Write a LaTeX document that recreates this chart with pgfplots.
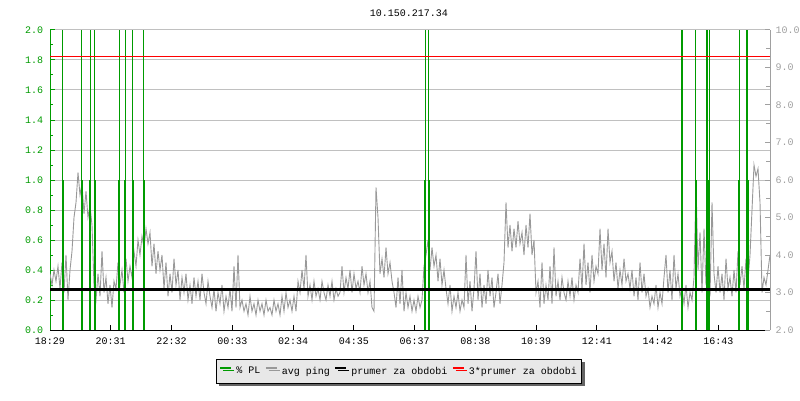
\documentclass[border=0pt]{standalone}
\usepackage{pgfplots}
\pgfplotsset{compat=1.18}
\usepackage{fontspec}
\setmainfont{Liberation Mono}
\usetikzlibrary{shadows}

\definecolor{pgreen}{RGB}{0,155,0}
\definecolor{pgray}{RGB}{153,153,153}
\definecolor{gridgray}{RGB}{192,192,192}
\definecolor{raxis}{RGB}{160,160,160}
\definecolor{legfill}{RGB}{232,232,232}
\definecolor{shadowc}{RGB}{100,100,100}

\pgfplotsset{
  base/.style={
    at={(50bp,70bp)}, anchor=south west, scale only axis,
    width=720bp, height=300bp,
    xmin=0, xmax=720,
    /pgf/number format/assume math mode=true,
    tick align=inside,
  },
}

\begin{document}
\fontsize{10bp}{12bp}\selectfont
\begin{tikzpicture}[x=1bp,y=1bp]
\path[use as bounding box] (0,0) rectangle (800,400);
\node at (409,386.5) {10.150.217.34};

% Axis A: grid, left axis, bottom axis
\begin{axis}[base, ymin=0, ymax=2,
  axis x line*=bottom, axis y line*=left,
  x axis line style={black, line width=1bp, -},
  y axis line style={pgreen, line width=1bp, -},
  ytick={0,0.2,0.4,0.6,0.8,1.0,1.2,1.4,1.6,1.8,2.0},
  minor y tick num=1,
  major tick length=5bp, minor tick length=3bp,
  ymajorgrids, grid style={gridgray, line width=1bp},
  ytick style={pgreen, line width=1bp},
  xtick style={black, line width=1bp},
  xtick={0,60.75,121.5,182.25,243,303.75,364.5,425.25,486,546.75,607.5,668.25},
  xticklabels={18:29,20:31,22:32,00:33,02:34,04:35,06:37,08:38,10:39,12:41,14:42,16:43},
  xticklabel style={yshift=-4.5bp},
  yticklabel style={pgreen, xshift=-3.4bp,
    /pgf/number format/fixed, /pgf/number format/fixed zerofill, /pgf/number format/precision=1},
]
\addplot[draw=none, forget plot] coordinates {(0,0)};
\end{axis}

% Axis B: right axis, avg ping
\begin{axis}[base, ymin=2, ymax=10,
  axis y line*=right, axis x line=none,
  y axis line style={raxis, line width=1bp, -},
  ytick={2,3,4,5,6,7,8,9,10},
  minor y tick num=1,
  major tick length=5.5bp, minor tick length=4bp,
  ytick style={raxis, line width=1bp},
  yticklabel style={raxis, xshift=2bp,
    /pgf/number format/fixed, /pgf/number format/fixed zerofill, /pgf/number format/precision=1},
]
\addplot[pgray, line width=0.9bp, forget plot] coordinates {
(0,3.5)(2,3.2)(4,3.6)(6,3.3)(8,3.7)(10,3.1)(12,3.8)(14,3.0)(16,4.0)(18,2.8)(20,3.6)
(22,4.1)(24,5.0)(26,5.4)(28,6.2)(30,5.6)(32,5.9)(34,5.1)(36,5.7)(38,5.0)(40,5.3)(42,4.8)
(44,3.2)(46,2.8)(48,3.5)(50,2.9)(52,4.1)(54,3.0)(56,3.4)(58,2.7)(60,3.2)(62,2.6)(64,3.3)
(66,3.1)(68,3.8)(70,3.2)(72,3.6)(74,3.0)(76,3.9)(78,3.3)(80,3.7)(82,3.4)
(84,4.1)(86,3.7)(88,4.4)(90,4.0)(92,4.5)(94,4.2)(96,4.7)(98,4.3)(100,4.6)
(102,3.7)(104,4.3)(106,3.5)(108,4.1)(110,3.6)(112,4.0)
(114,3.1)(116,3.8)(118,2.9)(120,3.5)(122,3.0)(124,3.9)(126,3.2)(128,3.6)(130,2.8)(132,3.4)
(134,3.0)(136,3.5)(138,2.8)(140,3.2)(142,2.7)(144,3.4)(146,2.9)(148,3.3)(150,2.8)(152,3.5)
(154,3.0)(156,2.7)(158,3.3)(160,2.9)
(162,2.6)(164,3.1)(166,2.5)(168,3.0)(170,2.7)(172,3.2)(174,2.5)(176,2.9)(178,2.6)(180,3.1)
(182,2.5)(184,3.7)(186,2.6)(188,4.0)(190,2.6)
(192,2.8)(194,2.5)(196,2.7)(198,2.4)(200,2.9)(202,2.5)(204,2.7)(206,2.4)(208,2.8)(210,2.5)
(212,2.7)(214,2.4)(216,2.8)(218,2.5)(220,2.6)(222,2.4)(224,2.8)(226,2.5)(228,2.7)(230,2.4)
(232,2.9)(234,2.5)(236,3.0)(238,2.6)(240,2.8)(242,2.5)(244,2.9)(246,2.5)
(248,3.3)(250,3.0)(252,3.6)(254,3.1)(256,4.0)
(258,2.9)(260,3.2)(262,2.8)(264,3.3)(266,2.9)(268,3.1)(270,2.8)(272,3.3)(274,3.0)(276,2.8)
(278,3.2)(280,2.9)(282,3.3)(284,2.8)(286,3.1)(288,2.9)(290,3.0)
(292,3.7)(294,3.0)(296,3.4)(298,3.1)(300,3.6)(302,3.0)(304,3.5)(306,3.1)(308,3.3)(310,3.0)
(312,3.7)(314,3.2)(316,3.5)(318,3.0)(320,3.3)(322,2.6)(324,2.5)(326,5.8)(328,5.0)
(330,3.5)(332,3.9)(334,3.4)(336,4.2)(338,3.5)(340,3.8)(342,3.3)
(344,3.0)(346,2.6)(348,3.4)(350,2.7)(352,3.6)(354,2.5)(356,3.0)
(358,2.6)(360,2.9)(362,2.5)(364,2.8)(366,2.5)(368,2.9)(370,2.6)(372,2.8)
(374,3.7)(376,4.0)(378,4.4)(380,3.6)(382,4.2)(384,3.7)(386,4.0)
(388,3.3)(390,3.9)(392,3.2)(394,3.6)(396,3.1)
(398,2.7)(400,3.2)(402,2.5)(404,2.9)(406,2.6)(408,3.0)(410,2.5)(412,2.8)
(414,2.6)(416,4.0)(418,2.7)(420,3.3)(422,2.5)(424,3.1)(426,4.1)
(428,2.8)(430,3.5)(432,2.6)(434,3.2)(436,2.7)(438,3.6)(440,2.9)(442,3.4)(444,2.6)(446,3.0)
(448,3.5)(450,2.7)(452,3.2)
(454,3.8)(456,5.4)(458,4.2)(460,4.8)(462,4.1)(464,4.7)(466,4.2)(468,4.9)(470,4.3)(472,4.6)
(474,4.0)(476,4.8)(478,4.2)(480,5.1)(482,4.0)(484,4.4)
(486,3.0)(488,3.3)(490,2.6)(492,3.8)(494,2.7)(496,3.2)(498,2.8)(500,3.7)(502,2.7)
(504,4.2)(506,2.9)(508,3.3)(510,2.8)(512,3.4)(514,3.0)(516,2.8)(518,3.3)(520,2.9)(522,3.4)
(524,2.8)(526,3.2)(528,3.0)
(530,3.9)(532,3.1)(534,4.3)(536,3.2)(538,3.8)(540,3.0)(542,4.0)(544,3.3)(546,3.7)
(548,3.5)(550,4.7)(552,3.6)(554,4.3)(556,3.4)(558,4.7)(560,3.8)(562,4.1)
(564,3.3)(566,3.8)(568,3.1)(570,3.6)(572,3.2)(574,3.9)(576,3.3)(578,3.5)(580,3.1)
(582,3.6)(584,2.9)(586,3.4)(588,2.8)(590,3.8)(592,3.0)(594,3.5)(596,2.9)
(598,3.1)(600,2.6)(602,2.9)(604,2.7)(606,3.2)(608,2.6)(610,3.0)(612,2.7)
(614,3.4)(616,4.0)(618,3.0)(620,3.6)(622,2.8)(624,4.0)(626,3.1)(628,3.5)(630,2.9)
(632,3.1)(634,2.7)(636,3.2)(638,2.6)(640,3.0)(642,2.8)(644,3.4)(646,5.9)(648,3.6)
(650,4.6)(652,3.0)(654,4.7)(656,3.2)(658,3.9)(660,2.9)(662,5.4)(664,3.5)(666,3.0)
(668,3.7)(670,3.0)(672,3.5)(674,2.8)(676,3.9)(678,3.1)(680,3.4)(682,2.9)
(684,3.6)(686,3.0)(688,4.1)(690,3.2)(692,3.7)(694,3.1)(696,3.9)(698,3.3)(700,4.0)
(702,5.2)(704,6.4)(706,6.1)(708,6.3)(710,5.4)(712,3.0)(714,3.4)(716,3.2)(718,3.6)(720,4.0)
};
\end{axis}

% Axis C: packet loss
\begin{axis}[base, ymin=0, ymax=2, hide axis]
\addplot[pgreen, ycomb, line width=1bp, forget plot] coordinates {
(12.7,2)(31.7,2)(40,2)(44.7,2)(69,2)(75,2)(82.7,2)(93.7,2)
(375,2)(378.7,2)(645.7,2)(659.3,2)(689.3,2)};
\addplot[pgreen, ycomb, line width=2bp, forget plot] coordinates {
(12.7,1)(31.7,1)(40,1)(44.7,1)(69,1)(75,1)(82.7,1)(93.7,1)
(375,1)(378.7,1)(645.7,1)(659.3,1)(689.3,1)(697.6,1)};
\addplot[pgreen, ycomb, line width=2bp, forget plot] coordinates {
(631.7,2)(656.7,2)(696.7,2)};
\end{axis}

% Axis D: averages and legend
\begin{axis}[base, ymin=2, ymax=10, hide axis,
  legend columns=-1,
  legend image code/.code={\draw[#1, line width=2bp] (0bp,3.3bp) -- (11bp,3.3bp);},
  legend style={at={(0.4847,-0.1373)}, anchor=center,
    draw=black, line width=1bp, fill=legfill,
    drop shadow={shadow xshift=3bp, shadow yshift=-3bp, fill=shadowc, opacity=1},
    inner xsep=3bp, inner ysep=6.5bp,
    nodes={inner xsep=1.5bp, inner ysep=1bp},
    /tikz/every odd column/.append style={column sep=2.5bp},
    /tikz/every even column/.append style={column sep=3bp}},
]
\addplot[black, line width=3bp, forget plot] coordinates {(0,3.07)(720,3.07)};
\addplot[red, line width=1.5bp, forget plot] coordinates {(0,9.29)(720,9.29)};
\addlegendimage{pgreen}
\addlegendentry{\% PL}
\addlegendimage{pgray}
\addlegendentry{avg ping}
\addlegendimage{black}
\addlegendentry{prumer za obdobi}
\addlegendimage{red}
\addlegendentry{3*prumer za obdobi\hspace{2bp}}
\end{axis}
\end{tikzpicture}
\end{document}
